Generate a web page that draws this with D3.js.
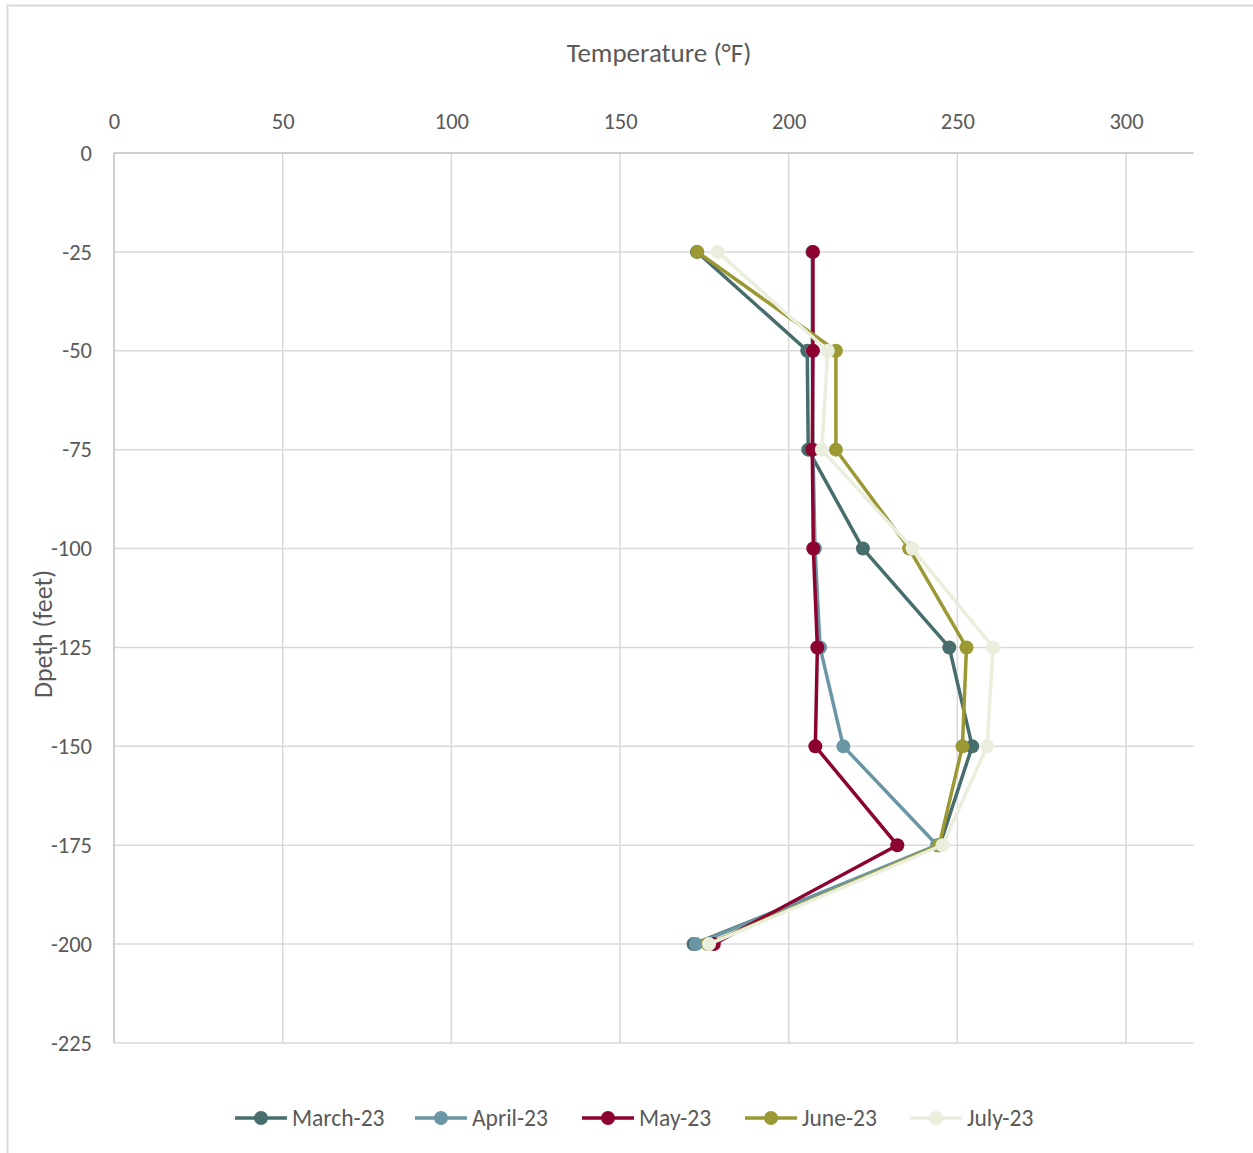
<!DOCTYPE html>
<html>
<head>
<meta charset="utf-8">
<script src="https://cdn.jsdelivr.net/npm/d3@7"></script>
<style>
  html, body { margin: 0; padding: 0; background: #fff; }
  svg { display: block; font-family: Carlito, "Noto Sans", "Open Sans", sans-serif; }
</style>
</head>
<body>
<svg id="chart" width="1253" height="1153"></svg>
<script>
// Depth readings (feet) and temperature profiles (°F) per monthly survey
const depths = [-25, -50, -75, -100, -125, -150, -175, -200];
const seriesNames = ["March-23", "April-23", "May-23", "June-23", "July-23"];
const march = [172.8, 205.5, 205.8, 222.0, 247.6, 254.4, 244.8, 171.8];
const april = [207.0, 207.0, 207.2, 207.8, 209.3, 216.2, 244.0, 172.5];
const may   = [207.2, 207.2, 207.0, 207.3, 208.5, 207.9, 232.2, 177.8];
const june  = [172.9, 214.0, 214.0, 235.7, 252.7, 251.5, 244.6, 176.0];
const july  = [179.0, 211.6, 209.8, 236.7, 260.6, 258.8, 245.6, 176.4];
const seriesColors = ["#476D6D", "#6A96A5", "#8C0231", "#9A9934", "#EAEEDC"];
const xTicks = [0, 50, 100, 150, 200, 250, 300];
const yTicks = [0, -25, -50, -75, -100, -125, -150, -175, -200, -225];

const allSeries = [march, april, may, june, july];

const svg = d3.select("#chart");
const textColor = "#595959";

// outer chart frame
svg.append("rect")
  .attr("x", 7.5).attr("y", 5.5)
  .attr("width", 1300).attr("height", 1200)
  .attr("fill", "none").attr("stroke", "#D9D9D9").attr("stroke-width", 2);

const plotL = 114, plotR = 1193.5, plotT = 153, plotB = 1043;
const x = d3.scaleLinear().domain([0, 320]).range([plotL, plotR]);
const y = d3.scaleLinear().domain([0, -225]).range([plotT, plotB]);

// gridlines
const grid = svg.append("g");
grid.selectAll("line.v").data(xTicks.filter(d => d > 0)).join("line")
  .attr("x1", d => x(d)).attr("x2", d => x(d))
  .attr("y1", plotT).attr("y2", plotB)
  .attr("stroke", "#D9D9D9").attr("stroke-width", 1.5);
grid.selectAll("line.h").data(yTicks.filter(d => d < 0)).join("line")
  .attr("x1", plotL).attr("x2", plotR)
  .attr("y1", d => y(d)).attr("y2", d => y(d))
  .attr("stroke", "#D9D9D9").attr("stroke-width", 1.5);

// axes along top and left (plain hyphen for negatives)
const fmt = d => String(d);
const xAxis = svg.append("g").attr("transform", `translate(0,${plotT})`)
  .call(d3.axisTop(x).tickValues(xTicks).tickFormat(fmt).tickSize(0).tickPadding(24));
const yAxis = svg.append("g").attr("transform", `translate(${plotL},0)`)
  .call(d3.axisLeft(y).tickValues(yTicks).tickFormat(fmt).tickSize(0).tickPadding(22));
[xAxis, yAxis].forEach(a => {
  a.select(".domain").attr("stroke", "#BFBFBF").attr("stroke-width", 1.5);
  a.selectAll("text").attr("fill", textColor).style("font-size", "22.5px")
    .style("font-family", 'Carlito, "Noto Sans", sans-serif');
});
xAxis.select(".domain").attr("d", `M${plotL},0H${plotR}`);
yAxis.select(".domain").attr("d", `M0,${plotT}V${plotB}`);

// axis titles
svg.append("text").attr("x", 659).attr("y", 62)
  .attr("text-anchor", "middle").attr("fill", textColor)
  .style("font-size", "27px").text("Temperature (°F)");
svg.append("text")
  .attr("transform", `translate(52,634) rotate(-90)`)
  .attr("text-anchor", "middle").attr("fill", textColor)
  .style("font-size", "26px").text("Dpeth (feet)");

// profile lines and markers
const line = d3.line().x(d => x(d[0])).y(d => y(d[1]));
allSeries.forEach((vals, i) => {
  const pts = vals.map((v, j) => [v, depths[j]]);
  const g = svg.append("g");
  g.append("path").datum(pts).attr("d", line)
    .attr("fill", "none").attr("stroke", seriesColors[i])
    .attr("stroke-width", 3.5).attr("stroke-linejoin", "round");
  g.selectAll("circle").data(pts).join("circle")
    .attr("cx", d => x(d[0])).attr("cy", d => y(d[1])).attr("r", 7)
    .attr("fill", seriesColors[i]);
});

// legend
const legendX = [235, 415, 582, 745, 910];
const legend = svg.append("g");
seriesNames.forEach((name, i) => {
  const lx = legendX[i];
  legend.append("line").attr("x1", lx).attr("x2", lx + 52)
    .attr("y1", 1118).attr("y2", 1118)
    .attr("stroke", seriesColors[i]).attr("stroke-width", 3.5);
  legend.append("circle").attr("cx", lx + 26).attr("cy", 1118).attr("r", 7)
    .attr("fill", seriesColors[i]);
  legend.append("text").attr("x", lx + 57).attr("y", 1126)
    .attr("fill", textColor).style("font-size", "23.5px").text(name);
});
</script>
</body>
</html>
